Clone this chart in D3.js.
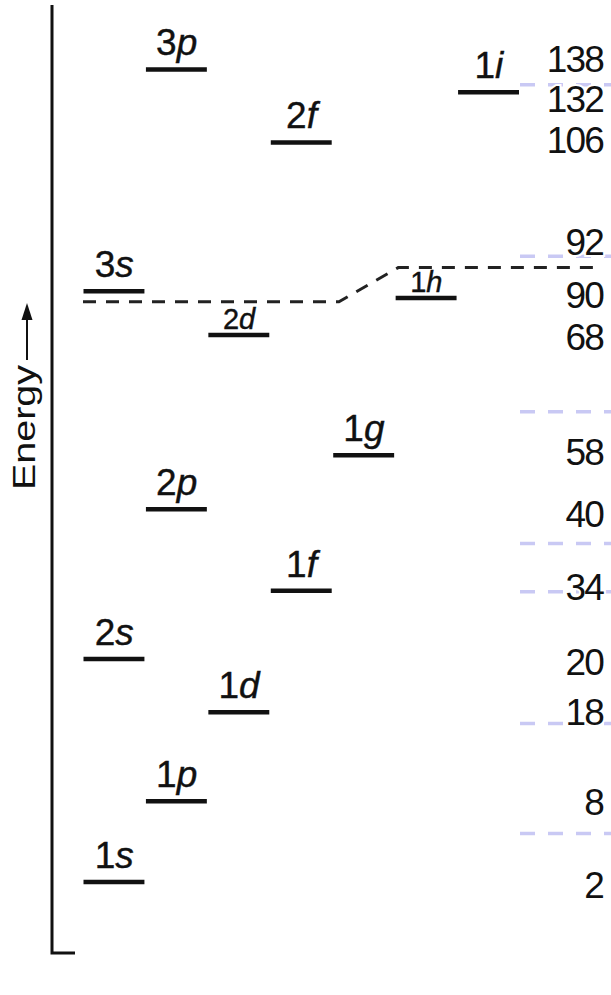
<!DOCTYPE html>
<html>
<head>
<meta charset="utf-8">
<script src="https://cdn.jsdelivr.net/npm/d3@7"></script>
<style>
  html, body { margin: 0; padding: 0; background: #fff; }
  svg { display: block; }
  text { font-family: "Liberation Sans", Arial, sans-serif; fill: #111; }
</style>
</head>
<body>
<script>
// ---- data ----
const levelNames  = ["1s", "1p", "1d", "2s", "1f", "2p", "1g", "2d", "3s", "1h", "2f", "1i", "3p"];
const levelL      = [0, 1, 2, 0, 3, 1, 4, 2, 0, 5, 3, 6, 1];          // orbital angular momentum column
const levelEnergy = [7.5, 16.0, 25.4, 31.0, 38.2, 46.8, 52.5, 65.2, 69.8, 69.1, 85.5, 90.8, 93.2];

const magicNumbers = ["2", "8", "18", "20", "34", "40", "58", "68", "90", "92", "106", "132", "138"];
const magicEnergy  = [5.8, 14.6, 24.1, 29.3, 37.2, 44.9, 51.5, 63.6, 68.0, 73.6, 84.4, 88.7, 92.9];

const gapEnergy = [12.6, 24.2, 38.1, 43.2, 57.1, 73.5, 91.6];

const intruderL      = [0, 4.1, 5.05, 8.25];
const intruderEnergy = [68.7, 68.7, 72.3, 72.3];

const axisLabel = "Energy";

// ---- layout ----
const W = 611, H = 995;
const svg = d3.select("body").append("svg").attr("width", W).attr("height", H);

const y = d3.scaleLinear().domain([0, 100]).range([953, 5]);
const x = d3.scaleLinear().domain([0, 7]).range([83, 520]);
const axisX = 52;

// light blue shell-gap lines
svg.append("g").selectAll("line").data(gapEnergy).join("line")
  .attr("x1", x(7)).attr("x2", W)
  .attr("y1", d => y(d)).attr("y2", d => y(d))
  .attr("stroke", "#c9c9f4").attr("stroke-width", 3.5)
  .attr("stroke-dasharray", "15,13");

// axis
svg.append("path")
  .attr("d", `M${axisX},${y(100)}V${y(0)}H${axisX + 23}`)
  .attr("fill", "none").attr("stroke", "#111").attr("stroke-width", 3);

// Energy label with arrow
const eg = svg.append("g");
eg.append("text")
  .attr("transform", `translate(35,${y(0) - 463}) rotate(-90)`)
  .attr("font-size", 31)
  .attr("textLength", 125).attr("lengthAdjust", "spacingAndGlyphs")
  .text(axisLabel);
eg.append("line").attr("x1", 27).attr("x2", 27).attr("y1", 360).attr("y2", 316)
  .attr("stroke", "#111").attr("stroke-width", 2);
eg.append("path").attr("d", "M27,303L21.5,320L32.5,320Z").attr("fill", "#111");

// intruder dashed line
const line = d3.line().x((d, i) => x(intruderL[i])).y((d, i) => y(intruderEnergy[i]));
svg.append("path").datum(intruderL)
  .attr("d", line)
  .attr("fill", "none").attr("stroke", "#222").attr("stroke-width", 3)
  .attr("stroke-dasharray", "13,10");

// level bars and labels
const levels = levelNames.map((n, i) => ({ name: n, l: levelL[i], e: levelEnergy[i] }));
const squeezed = new Set(["2d", "1h"]);

svg.append("g").selectAll("line").data(levels).join("line")
  .attr("x1", d => x(d.l) + 0.5).attr("x2", d => x(d.l + 1) - 1)
  .attr("y1", d => y(d.e)).attr("y2", d => y(d.e))
  .attr("stroke", "#111").attr("stroke-width", 4.5);

const lab = svg.append("g").selectAll("text").data(levels).join("text")
  .attr("x", d => (x(d.l) + x(d.l + 1)) / 2)
  .attr("y", d => y(d.e) - (squeezed.has(d.name) ? 6 : 14))
  .attr("text-anchor", "middle")
  .attr("font-size", d => squeezed.has(d.name) ? 29 : 37)
  .attr("stroke", "#111").attr("stroke-width", 0.4);
lab.append("tspan").text(d => d.name[0]);
lab.append("tspan").attr("font-style", "italic").text(d => d.name.slice(1));

// magic numbers
svg.append("g").selectAll("text").data(magicNumbers).join("text")
  .attr("x", 603)
  .attr("y", (d, i) => y(magicEnergy[i]))
  .attr("text-anchor", "end")
  .attr("font-size", 37)
  .attr("letter-spacing", -1.8)
  .attr("stroke", "#fff").attr("stroke-width", 4).attr("paint-order", "stroke")
  .text(d => d);
</script>
</body>
</html>
